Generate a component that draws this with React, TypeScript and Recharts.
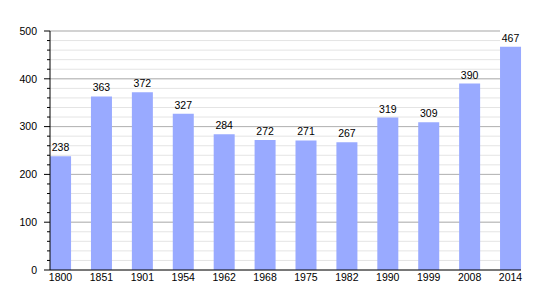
import { BarChart, Bar, XAxis, YAxis, CartesianGrid, LabelList } from "recharts";

const YEARS = ["1800", "1851", "1901", "1954", "1962", "1968", "1975", "1982", "1990", "1999", "2008", "2014"];
const POPULATION = [238, 363, 372, 327, 284, 272, 271, 267, 319, 309, 390, 467];
const Y_TICKS = [0, 20, 40, 60, 80, 100, 120, 140, 160, 180, 200, 220, 240, 260, 280, 300, 320, 340, 360, 380, 400, 420, 440, 460, 480, 500];
const MAJOR_TICKS = [100, 200, 300, 400, 500];

const FONT = "'Liberation Sans', Arial, sans-serif";
const FS = 10.5;

const data = POPULATION.map((value, i) => ({ idx: i, year: YEARS[i], value }));

// y tick: long mark + label on hundreds, short mark otherwise
function YTick(props: any) {
  const { x, y, payload } = props;
  const major = payload.value % 100 === 0;
  return (
    <g>
      <line x1={x - (major ? 6 : 3)} x2={x} y1={y} y2={y} stroke="#000" />
      {major && (
        <text x={x - 13} y={y} dy={3.8} textAnchor="end" fontSize={FS} fontFamily={FONT} fill="#000">
          {payload.value}
        </text>
      )}
    </g>
  );
}

export default function App() {
  return (
    <div style={{ position: "absolute", left: 0, top: 0, background: "#fff" }}>
      <BarChart width={550} height={300} data={data} margin={{ top: 31, right: 29, bottom: 0, left: 0 }}>
        <CartesianGrid x={50} width={450} vertical={false} stroke="#e4e4e4" />
        <CartesianGrid x={50} width={450} vertical={false} stroke="#b3b3b3" horizontalValues={MAJOR_TICKS} />
        <XAxis
          dataKey="idx"
          type="number"
          domain={[-0.257, 11.257]}
          ticks={data.map((d) => d.idx)}
          tickFormatter={(v: number) => YEARS[v]}
          interval={0}
          height={30}
          tickLine={false}
          tickSize={0}
          tickMargin={4}
          axisLine={{ stroke: "#000" }}
          tick={{ fontSize: FS, fontFamily: FONT, fill: "#000" }}
        />
        <YAxis
          width={50}
          domain={[0, 500]}
          ticks={Y_TICKS}
          interval={0}
          tickLine={false}
          tickSize={0}
          tickMargin={0}
          axisLine={{ stroke: "#000" }}
          tick={<YTick />}
        />
        <Bar dataKey="value" fill="#99aaff" barSize={21} isAnimationActive={false}>
          <LabelList dataKey="value" position="top" offset={5} fontSize={FS} fontFamily={FONT} fill="#000" />
        </Bar>
      </BarChart>
    </div>
  );
}
